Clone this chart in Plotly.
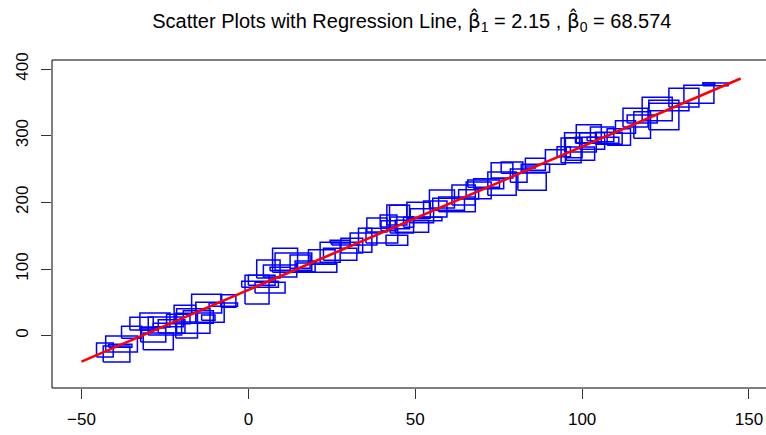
import plotly.graph_objects as go

# Fitted coefficients shown in the title
beta1 = 2.15
beta0 = 68.574

# Range of the predictor used for the fitted line
fit_x = [-50.0, 147.5]

# Rectangle symbols: centre (x, y), width (x units), height (y units)
rect_x = [-43.0, -38.0, -39.5, -38.4, -32.0, -28.0, -28.5, -27.0, -25.0, -24.0,
          -23.0, -19.0, -18.5, -16.5, -15.0, -12.5, -11.5, -12.0, -6.0, -7.5,
          -35.0, -30.0, -21.0,
          2.6, 3.5, 6.5, 4.0, 6.0, 9.5, 11.0, 13.5, 9.5, 15.5,
          20.5, 24.5, 27.5, 27.5, 29.0, 31.0, 34.5, 35.0, 38.5, 40.0,
          42.0, 42.0, 44.5, 44.5, 48.0, 17.0, 22.0,
          45.3, 46.0, 49.0, 52.0, 51.0, 53.0, 58.0, 60.0, 62.5, 64.5,
          69.0, 70.5, 72.0, 76.0, 76.0, 79.0, 85.0, 86.0, 86.0, 84.5,
          56.0, 66.0, 81.0,
          94.5, 96.7, 99.5, 99.5, 102.0, 104.5, 103.0, 106.0, 103.0, 111.0,
          113.0, 116.0, 118.0, 118.0, 122.5, 124.5, 126.0, 130.5, 135.0, 140.0,
          138.0, 92.0, 108.0, 97.5]
rect_y = [-21.5, -12.5, -27.5, -15.0, 18.0, 23.5, 1.0, -8.5, 14.5, 16.0,
          14.0, 33.0, 15.0, 22.0, 28.0, 48.0, 35.0, 27.0, 52.0, 46.5,
          5.0, 10.0, 25.0,
          69.0, 77.0, 72.0, 83.0, 100.0, 97.0, 113.0, 111.0, 100.0, 111.0,
          102.0, 125.0, 122.0, 141.0, 138.0, 135.0, 145.0, 143.0, 166.0, 150.0,
          165.0, 172.0, 181.0, 143.0, 170.0, 104.0, 118.0,
          178.0, 166.0, 164.0, 180.0, 188.0, 175.0, 205.0, 197.0, 197.0, 211.0,
          218.0, 228.0, 228.0, 228.0, 248.0, 252.0, 231.0, 251.0, 257.0, 253.0,
          190.0, 212.0, 240.0,
          276.0, 278.0, 290.0, 273.0, 303.0, 293.0, 292.0, 302.0, 295.0, 298.0,
          313.0, 327.0, 325.0, 316.0, 340.0, 331.0, 343.0, 357.0, 362.0, 377.0,
          378.0, 268.0, 296.0, 282.0]
rect_w = [5.0, 9.5, 8.0, 7.0, 7.0, 9.0, 7.5, 9.0, 10.0, 9.0,
          8.0, 6.5, 6.5, 10.0, 9.0, 9.0, 8.5, 4.0, 4.5, 8.5,
          6.0, 5.0, 7.0,
          7.2, 11.0, 9.0, 8.0, 7.0, 10.0, 7.5, 11.0, 6.0, 6.0,
          12.0, 6.0, 10.0, 6.0, 8.0, 6.5, 8.0, 4.0, 6.0, 9.5,
          4.5, 5.0, 6.0, 6.5, 3.0, 6.0, 8.0,
          6.0, 7.0, 10.0, 7.0, 7.0, 10.0, 7.5, 9.5, 11.0, 7.0,
          7.5, 9.5, 9.0, 8.5, 6.5, 6.5, 8.5, 8.5, 6.0, 3.0,
          7.0, 6.0, 5.0,
          4.0, 6.0, 9.5, 8.5, 7.5, 13.0, 7.5, 7.0, 3.0, 7.0,
          6.0, 7.5, 9.0, 5.0, 9.0, 9.0, 12.0, 9.0, 9.0, 7.5,
          3.5, 6.0, 8.0, 5.0]
rect_h = [21.0, 24.0, 24.0, 4.5, 19.0, 21.0, 21.0, 25.0, 27.0, 5.0,
          20.0, 25.0, 37.0, 37.0, 19.0, 28.0, 30.0, 8.0, 19.0, 5.0,
          18.0, 4.0, 14.0,
          43.0, 9.0, 16.0, 15.0, 27.0, 18.0, 36.0, 26.0, 5.0, 20.0,
          14.0, 30.0, 18.0, 4.0, 4.0, 22.0, 18.0, 36.0, 21.0, 22.0,
          15.0, 18.0, 30.0, 15.0, 15.0, 16.0, 22.0,
          35.0, 24.0, 18.0, 21.0, 24.0, 5.0, 27.0, 18.0, 22.0, 30.0,
          25.0, 11.0, 15.0, 35.0, 23.0, 17.0, 26.0, 12.0, 18.0, 3.0,
          24.0, 14.0, 20.0,
          15.0, 37.0, 29.0, 20.0, 27.0, 9.0, 25.0, 22.0, 5.0, 25.0,
          19.0, 28.0, 12.0, 40.0, 35.0, 44.0, 11.0, 28.0, 27.0, 4.0,
          3.0, 22.0, 18.0, 30.0]

# Outline path for all rectangles, separated by gaps
px, py = [], []
for cx, cy, w, h in zip(rect_x, rect_y, rect_w, rect_h):
    x0, x1 = cx - w / 2, cx + w / 2
    y0, y1 = cy - h / 2, cy + h / 2
    px += [x0, x1, x1, x0, x0, None]
    py += [y0, y0, y1, y1, y0, None]

fit_y = [beta0 + beta1 * v for v in fit_x]

fig = go.Figure()
fig.add_trace(go.Scatter(x=px, y=py, mode="lines",
                         line=dict(color="#0000FF", width=1.5),
                         hoverinfo="skip", showlegend=False))
fig.add_trace(go.Scatter(x=fit_x, y=fit_y, mode="lines",
                         line=dict(color="#FF0000", width=2.6),
                         showlegend=False))

font = "Liberation Sans, Arial, sans-serif"
hat_beta = '<span style="font-family:DejaVu Sans">β̂</span>'
title_text = (f"Scatter Plots with Regression Line, {hat_beta}<sub>1</sub> = {beta1:g} , "
              f"{hat_beta}<sub>0</sub> = {beta0:g}")

fig.update_layout(
    width=766, height=435,
    margin=dict(l=52, r=0, t=60, b=47),
    plot_bgcolor="white", paper_bgcolor="white",
    font=dict(family=font, size=17, color="#000000"),
    title=dict(
        text=title_text,
        x=0.504, xref="paper", xanchor="center",
        y=1 - 21 / 435, yref="container", yanchor="middle",
        font=dict(family=font, size=20, color="#000000"),
    ),
    shapes=[dict(type="rect", xref="paper", yref="paper",
                 x0=0, x1=1.05, y0=0, y1=1,
                 line=dict(color="black", width=1))],
)
fig.update_xaxes(range=[-58.84, 155.1], tickvals=[-50, 0, 50, 100, 150],
                 ticks="outside", ticklen=10, tickcolor="#333333",
                 showgrid=False, zeroline=False, showline=False,
                 ticklabelstandoff=6)
fig.update_yaxes(range=[-78.5, 413.5], tickvals=[0, 100, 200, 300, 400],
                 ticks="outside", ticklen=10, tickcolor="#333333",
                 tickangle=-90, showgrid=False, zeroline=False,
                 showline=False, ticklabelstandoff=6)

fig.write_html("out.html")
